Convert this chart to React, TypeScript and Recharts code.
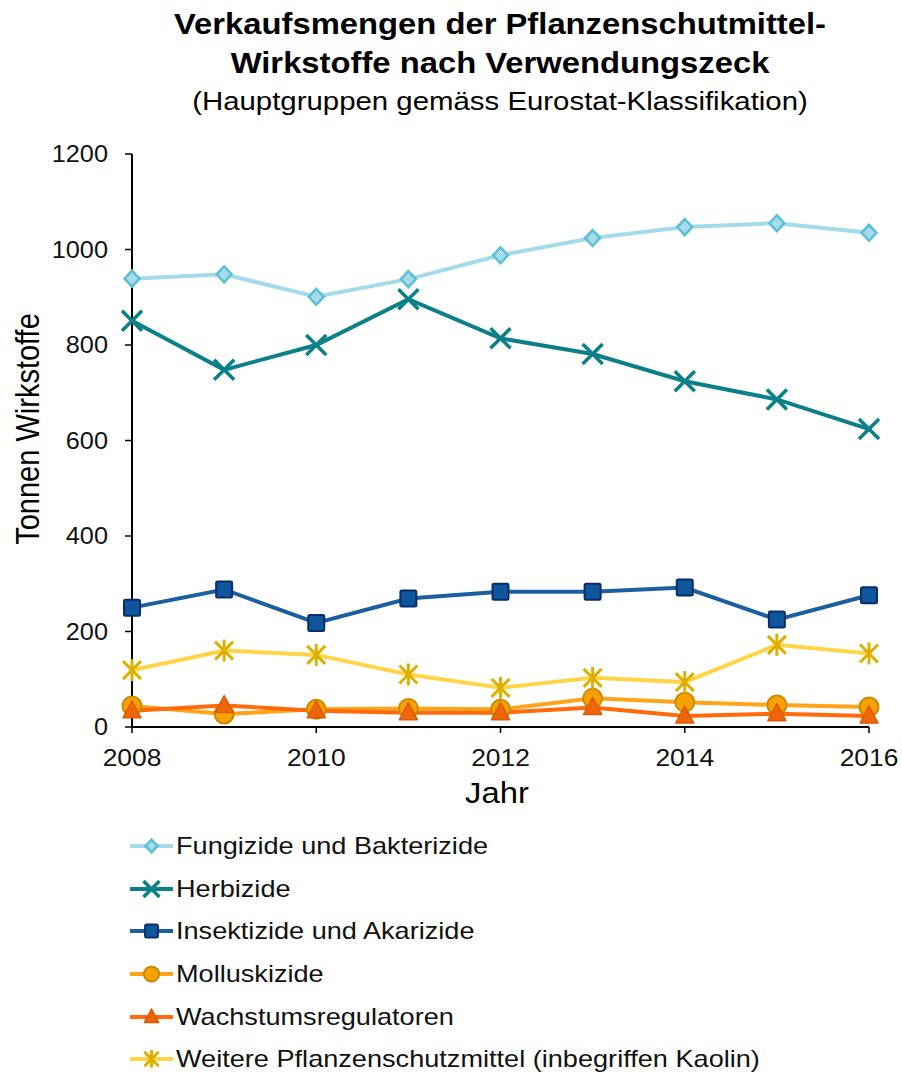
import React from 'react';
import { LineChart, Line, XAxis, YAxis, Legend } from 'recharts';

const years = [2008, 2009, 2010, 2011, 2012, 2013, 2014, 2015, 2016];
const fungizide = [939, 948, 901, 938, 988, 1024, 1047, 1055, 1035];
const herbizide = [851, 748, 800, 896, 814, 781, 724, 686, 624];
const insektizide = [250, 288, 218, 269, 283, 283, 292, 225, 276];
const molluskizide = [44, 27, 37, 39, 37, 60, 52, 46, 42];
const wachstum = [34, 45, 34, 30, 30, 41, 23, 28, 23];
const weitere = [119, 160, 151, 110, 82, 103, 94, 172, 154];
const xTicks = [2008, 2010, 2012, 2014, 2016];
const yTicks = [0, 200, 400, 600, 800, 1000, 1200];

const titleLine1 = 'Verkaufsmengen der Pflanzenschutmittel-';
const titleLine2 = 'Wirkstoffe nach Verwendungszeck';
const subtitle = '(Hauptgruppen gemäss Eurostat-Klassifikation)';
const xLabel = 'Jahr';
const yLabel = 'Tonnen Wirkstoffe';

const data = years.map((y, i) => ({
  year: y,
  fung: fungizide[i],
  herb: herbizide[i],
  insekt: insektizide[i],
  mollusk: molluskizide[i],
  wachs: wachstum[i],
  weitere: weitere[i],
}));

type Marker = 'diamond' | 'x' | 'square' | 'circle' | 'triangle' | 'star';

const series: { key: string; name: string; line: string; fill: string; stroke: string; marker: Marker }[] = [
  { key: 'fung', name: 'Fungizide und Bakterizide', line: '#a3dbea', fill: '#a6dcea', stroke: '#5bbfd8', marker: 'diamond' },
  { key: 'herb', name: 'Herbizide', line: '#0b8088', fill: '#0b8088', stroke: '#0b8088', marker: 'x' },
  { key: 'insekt', name: 'Insektizide und Akarizide', line: '#1b5fa0', fill: '#0f569c', stroke: '#0a2e6a', marker: 'square' },
  { key: 'mollusk', name: 'Molluskizide', line: '#ffa31a', fill: '#f7a100', stroke: '#c98a00', marker: 'circle' },
  { key: 'wachs', name: 'Wachstumsregulatoren', line: '#ff6a0a', fill: '#f0650c', stroke: '#dc5a00', marker: 'triangle' },
  { key: 'weitere', name: 'Weitere Pflanzenschutzmittel (inbegriffen Kaolin)', line: '#ffd447', fill: '#e0b000', stroke: '#ddb000', marker: 'star' },
];

const FONT = '"Liberation Sans", Arial, sans-serif';
const SX = 1.13;
const TSX = 1.1;

function renderMarker(m: Marker, cx: number, cy: number, fill: string, stroke: string, s: number, key?: string | number) {
  switch (m) {
    case 'diamond':
      return (
        <polygon key={key} points={`${cx},${cy - 8 * s} ${cx + 7.5 * s},${cy} ${cx},${cy + 8 * s} ${cx - 7.5 * s},${cy}`}
          fill={fill} stroke={stroke} strokeWidth={2.5} />
      );
    case 'x':
      return (
        <g key={key} stroke={stroke} strokeWidth={3.5} strokeLinecap="butt">
          <line x1={cx - 10 * s} y1={cy - 10 * s} x2={cx + 10 * s} y2={cy + 10 * s} />
          <line x1={cx - 10 * s} y1={cy + 10 * s} x2={cx + 10 * s} y2={cy - 10 * s} />
        </g>
      );
    case 'square':
      return (
        <rect key={key} x={cx - 8 * s} y={cy - 8 * s} width={16 * s} height={16 * s} rx={1.5}
          fill={fill} stroke={stroke} strokeWidth={2} />
      );
    case 'circle':
      return <circle key={key} cx={cx} cy={cy} r={9.5 * s} fill={fill} stroke={stroke} strokeWidth={2} />;
    case 'triangle':
      return (
        <polygon key={key} points={`${cx},${cy - 10 * s} ${cx + 9 * s},${cy + 7 * s} ${cx - 9 * s},${cy + 7 * s}`}
          fill={fill} stroke={stroke} strokeWidth={1.5} strokeLinejoin="round" />
      );
    case 'star':
      return (
        <g key={key} stroke={stroke} strokeWidth={3}>
          <line x1={cx - 9 * s} y1={cy - 9 * s} x2={cx + 9 * s} y2={cy + 9 * s} />
          <line x1={cx - 9 * s} y1={cy + 9 * s} x2={cx + 9 * s} y2={cy - 9 * s} />
          <line x1={cx} y1={cy - 11 * s} x2={cx} y2={cy + 11 * s} />
        </g>
      );
  }
  return null;
}

const YTick = (props: any) => {
  const { x, y, payload } = props;
  return (
    <g transform={`translate(${x},${y})`}>
      <text transform={`scale(${TSX},1)`} textAnchor="end" dy="0.36em" fontSize={23} fontFamily={FONT} fill="#111">
        {payload.value}
      </text>
    </g>
  );
};

const XTick = (props: any) => {
  const { x, y, payload } = props;
  return (
    <g transform={`translate(${x},${y})`}>
      <text transform={`scale(${TSX},1)`} textAnchor="middle" dy="0.36em" fontSize={24} fontFamily={FONT} fill="#111">
        {payload.value}
      </text>
    </g>
  );
};

const LegendContent = () => (
  <div style={{ height: 256, fontFamily: FONT }}>
    {series.map((s) => (
      <div key={s.key} style={{ height: 42.6, display: 'flex', alignItems: 'center' }}>
        <svg width={48} height={42} style={{ display: 'block', flex: 'none' }}>
          <line x1={2} y1={21} x2={45} y2={21} stroke={s.line} strokeWidth={4} />
          {renderMarker(s.marker, 23.5, 21, s.fill, s.stroke, 0.8)}
        </svg>
        <span style={{ fontSize: 24, color: '#111', whiteSpace: 'nowrap', display: 'inline-block', transform: `scaleX(${SX})`, transformOrigin: 'left center' }}>
          {s.name}
        </span>
      </div>
    ))}
  </div>
);

const centered = (top: number, fontSize: number, bold: boolean): React.CSSProperties => ({
  position: 'absolute',
  left: 500,
  top,
  fontSize,
  lineHeight: `${fontSize}px`,
  fontWeight: bold ? 'bold' : 'normal',
  fontFamily: FONT,
  whiteSpace: 'nowrap',
  color: '#000',
  transform: `translateX(-50%) scaleX(${SX})`,
});

export default function App() {
  return (
    <div style={{ position: 'absolute', left: 0, top: 0, width: 902, height: 1072, background: '#fff' }}>
      <div style={centered(10, 29, true)}>{titleLine1}</div>
      <div style={centered(49, 29, true)}>{titleLine2}</div>
      <div style={centered(88, 26, false)}>{subtitle}</div>
      <div
        style={{
          position: 'absolute', left: 28, top: 429, fontSize: 29, lineHeight: '29px', fontFamily: FONT,
          whiteSpace: 'nowrap', color: '#000', transform: `translate(-50%,-50%) scaleX(${SX}) rotate(-90deg)`,
        }}
      >
        {yLabel}
      </div>
      <div
        style={{
          position: 'absolute', left: 497, top: 793, fontSize: 29, lineHeight: '29px', fontFamily: FONT,
          whiteSpace: 'nowrap', color: '#000', transform: `translate(-50%,-50%) scaleX(${SX})`,
        }}
      >
        {xLabel}
      </div>
      <div style={{ position: 'absolute', left: 0, top: 0 }}>
        <LineChart width={902} height={1072} data={data} margin={{ top: 154, right: 33, bottom: 4, left: 0 }}>
          <XAxis
            xAxisId="b" dataKey="year" type="number" domain={[2008, 2016]} ticks={xTicks}
            axisLine={{ stroke: '#000', strokeWidth: 2 }} tickLine={{ stroke: '#000', strokeWidth: 1.5 }}
            tickSize={6} tickMargin={24} height={85} tick={<XTick />} interval={0}
          />
          <XAxis xAxisId="t" orientation="top" dataKey="year" type="number" domain={[2008, 2016]} height={0}
            tick={false} tickLine={false} axisLine={{ stroke: '#000', strokeWidth: 2 }} />
          <YAxis
            yAxisId="l" domain={[0, 1200]} ticks={yTicks} width={132}
            axisLine={{ stroke: '#000', strokeWidth: 2 }} tickLine={{ stroke: '#000', strokeWidth: 1.5 }}
            tickSize={7} tickMargin={17} tick={<YTick />} interval={0}
          />
          <YAxis yAxisId="r" orientation="right" domain={[0, 1200]} width={0}
            tick={false} tickLine={false} axisLine={{ stroke: '#000', strokeWidth: 2 }} />
          <Legend
            layout="horizontal" verticalAlign="bottom" align="left"
            content={<LegendContent />}
            wrapperStyle={{ left: 128, top: 825, width: 700, height: 256 }}
          />
          {series.map((s) => (
            <Line
              key={s.key}
              xAxisId="b"
              yAxisId="l"
              dataKey={s.key}
              name={s.name}
              stroke={s.line}
              strokeWidth={4}
              isAnimationActive={false}
              activeDot={false}
              dot={(p: any) => renderMarker(s.marker, p.cx, p.cy, s.fill, s.stroke, 1, `${s.key}-${p.index}`)}
            />
          ))}
        </LineChart>
      </div>
    </div>
  );
}
